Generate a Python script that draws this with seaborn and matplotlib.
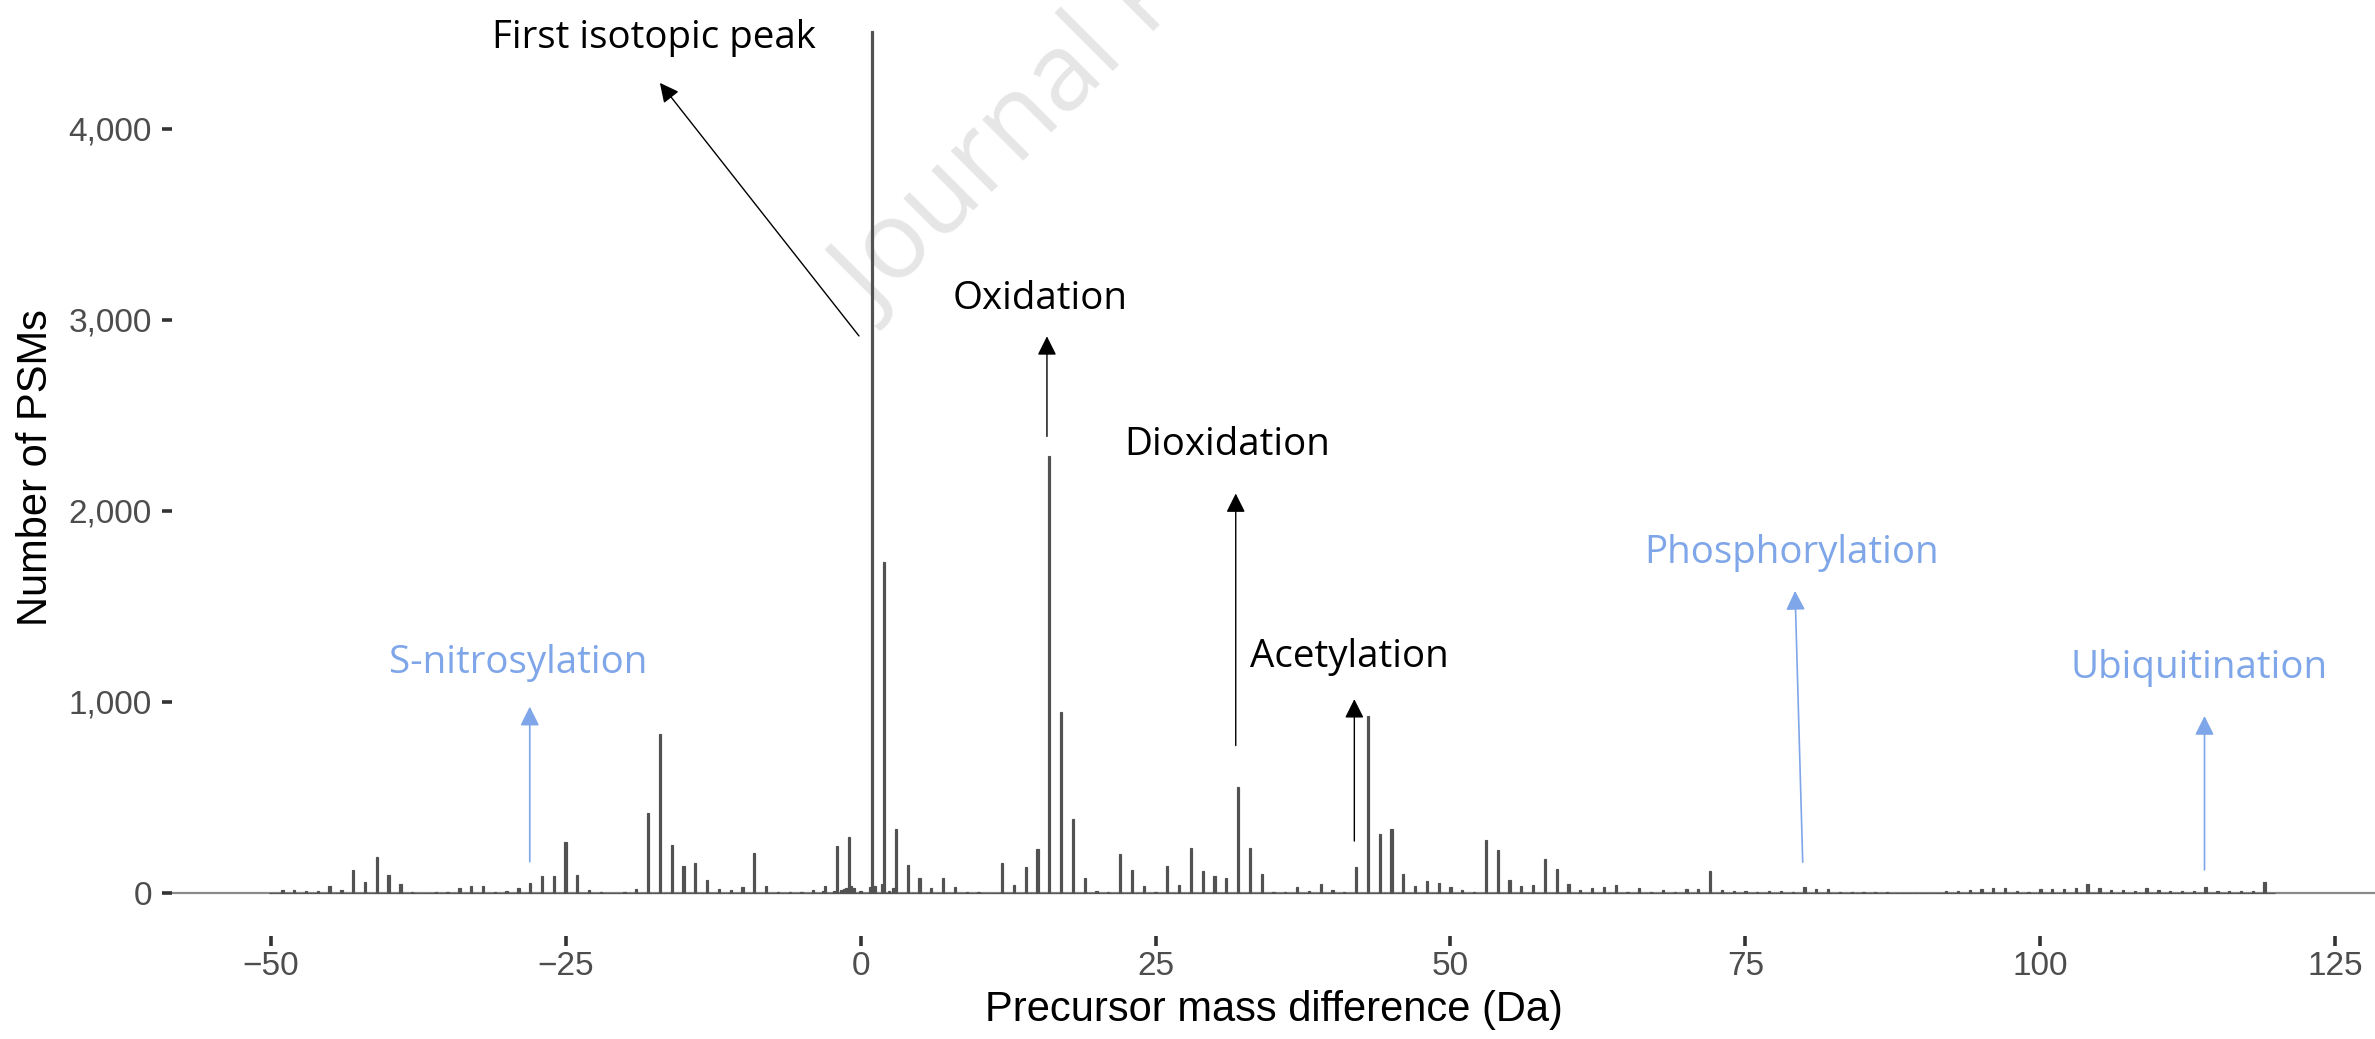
import numpy as np
import pandas as pd
import matplotlib
matplotlib.use("Agg")
import matplotlib.pyplot as plt
from matplotlib.ticker import FuncFormatter
import seaborn as sns

# ---------------- data ----------------
mass_shift = [-49, -48, -47, -46, -45, -44, -43, -42, -41, -40, -39, -38, -36, -35,
              -34, -33, -32, -31, -30, -29, -28, -27, -26, -25, -24, -23, -22, -20,
              -19, -18, -17, -16, -15, -14, -13, -12, -11, -10, -9, -8, -7, -6, -5,
              -4, -3, -2, -1, 1, 2, 3, 4, 5, 6, 7, 8, 9, 10,
              12, 13, 14, 15, 16, 17, 18, 19, 20, 21, 22, 23, 24, 25, 26, 27,
              28, 29, 30, 31, 32, 33, 34, 35, 36, 37, 38, 39, 40, 41, 42, 43,
              44, 45, 46, 47, 48, 49, 50, 51, 52, 53, 54, 55, 56, 57, 58, 59,
              60, 61, 62, 63, 64, 65, 66, 67, 68, 69, 70, 71, 72, 73, 74, 75,
              76, 77, 78, 79, 80, 81, 82, 83, 84, 85, 86, 87, 92, 93, 94, 95, 96,
              97, 98, 99, 100, 101, 102, 103, 104, 105, 106, 107, 108, 109, 110,
              111, 112, 113, 114, 115, 116, 117, 118, 119]
psm_count = [14, 14, 9, 9, 35, 14, 119, 56, 187, 92, 45, 3, 3, 3,
             24, 35, 35, 5, 9, 24, 51, 87, 87, 265, 92, 14, 3, 3,
             19, 417, 830, 250, 140, 155, 66, 19, 14, 30, 208, 35, 3, 3, 3,
             14, 35, 244, 291, 4510, 1730, 333, 145, 77, 24, 77, 30, 3, 3,
             155, 40, 134, 229, 2286, 946, 386, 77, 9, 3, 202, 119, 35, 3, 140, 40,
             234, 113, 87, 77, 553, 234, 98, 3, 3, 30, 9, 45, 14, 3, 134, 925,
             307, 333, 98, 35, 61, 51, 30, 14, 3, 276, 223, 66, 35, 40, 176, 124,
             45, 14, 24, 30, 40, 3, 24, 3, 14, 3, 20, 17, 113, 14, 9, 9,
             3, 9, 9, 3, 30, 17, 17, 3, 3, 3, 3, 3, 9, 9, 14, 17, 24,
             24, 9, 3, 17, 17, 17, 24, 45, 24, 14, 14, 9, 24, 14,
             9, 9, 9, 30, 9, 9, 9, 9, 56]

# low-level counts in the finer bins around the unmodified / isotopic peaks
fine_shift = [-3.2, -2.2, -1.6, -1.4, -1.2, -0.8, -0.6, 0.0, 0.8, 1.2, 1.8, 2.4, 2.8]
fine_count = [9, 9, 14, 20, 24, 35, 24, 9, 30, 35, 45, 9, 24]

bin_width = 0.2
bin_range = (-50.1, 119.9)

x_ticks = [-50, -25, 0, 25, 50, 75, 100, 125]
y_ticks = [0, 1000, 2000, 3000, 4000]

# annotations: label, text x, text baseline y, arrow tail (x, y), arrow head (x, y), group
ann_labels = ["First isotopic peak", "Oxidation", "Dioxidation", "Acetylation",
              "S-nitrosylation", "Phosphorylation", "Ubiquitination"]
ann_text_x = [-17.5, 15.2, 31.1, 41.4, -29.0, 78.9, 113.4]
ann_text_y = [4422, 3054, 2294, 1183, 1152, 1726, 1124]
ann_tail_x = [-0.13, 15.8, 31.8, 41.85, -28.03, 79.85, 113.9]
ann_tail_y = [2915, 2389, 770, 270, 162, 160, 119]
ann_head_x = [-17.0, 15.8, 31.8, 41.85, -28.03, 79.2, 113.9]
ann_head_y = [4240, 2913, 2090, 1013, 974, 1580, 925]
ann_group = ["common", "common", "common", "common", "rare", "rare", "rare"]

# ---------------- styling ----------------
W, H = 2375, 1039
BAR = "#525252"
BLUE = "#7EA6E8"
sns.set_theme(style="white")
plt.rcParams["font.family"] = ["Liberation Sans", "DejaVu Sans"]

fig = plt.figure(figsize=(W / 100, H / 100), dpi=100)
fig.patch.set_facecolor("white")
ax_left, ax_bottom = 172 / W, 1 - 936 / H
ax = fig.add_axes([ax_left, ax_bottom, 1 - ax_left, 1 - ax_bottom])
ax.set_facecolor("white")

df = pd.DataFrame({
    "shift": list(mass_shift) + list(fine_shift),
    "count": list(psm_count) + list(fine_count),
})

ax.axhline(0, color="#8a8a8a", lw=1.6, zorder=0.8)
sns.histplot(data=df, x="shift", weights="count", binwidth=bin_width,
             binrange=bin_range, color=BAR, edgecolor=BAR, linewidth=0.85,
             alpha=1.0, ax=ax, zorder=2)

ax.set_xlim(-58.35, 128.35)
ax.set_ylim(-227, 4674)
ax.set_xticks(x_ticks)
ax.set_yticks(y_ticks)
ax.yaxis.set_major_formatter(FuncFormatter(lambda v, p: f"{int(v):,}"))
for s in ax.spines.values():
    s.set_visible(False)
ax.grid(False)
ax.tick_params(axis="both", which="major", length=7.5, width=2.6, color="#333333",
               labelsize=24, labelcolor="#4D4D4D", bottom=True, left=True)
ax.tick_params(axis="x", pad=3.5)
ax.tick_params(axis="y", pad=7)

ax.set_xlabel("Precursor mass difference (Da)", fontsize=30, color="black")
ax.set_ylabel("Number of PSMs", fontsize=30, color="black")
ax.xaxis.set_label_coords(0.5, -0.058)
ax.yaxis.set_label_coords(-0.0527, 0.5)

# watermark
ax.text(875 / W, 1 - 318 / H, "Journal Pre-proof", transform=fig.transFigure,
        rotation=45, rotation_mode="anchor", ha="left", va="baseline",
        fontsize=78, color="#E6E6E6", family=["Open Sans", "DejaVu Sans"],
        zorder=0.5, clip_on=False)

# annotations
for lab, tx, ty, x0, y0, x1, y1, g in zip(ann_labels, ann_text_x, ann_text_y,
                                          ann_tail_x, ann_tail_y, ann_head_x,
                                          ann_head_y, ann_group):
    col = "black" if g == "common" else BLUE
    lw = 1.0 if g == "common" else 1.2
    ax.annotate("", xy=(x1, y1), xytext=(x0, y0),
                arrowprops=dict(arrowstyle="-|>,head_length=0.4,head_width=0.2",
                                mutation_scale=29, color=col, lw=lw,
                                shrinkA=0, shrinkB=0), zorder=4)
    ax.text(tx, ty, lab, ha="center", va="baseline", fontsize=27.7, color=col,
            family=["Open Sans", "DejaVu Sans"], zorder=4)

fig.savefig("out.png", dpi=100, facecolor="white")
